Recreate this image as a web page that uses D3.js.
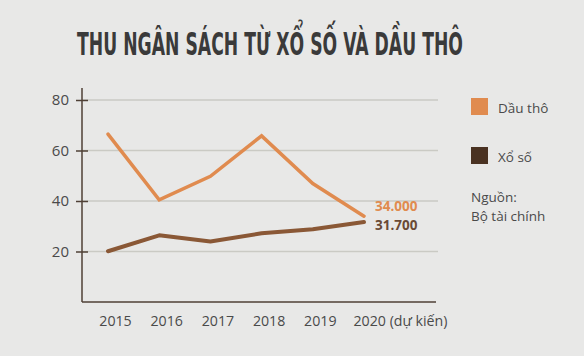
<!DOCTYPE html>
<html><head><meta charset="utf-8">
<script src="https://cdn.jsdelivr.net/npm/d3@7"></script>
<style>
html,body{margin:0;padding:0;background:#e8e8e7;}
svg{display:block;}
</style></head>
<body>
<script>
const categories = ["2015","2016","2017","2018","2019","2020"];
const tickLabels = ["2015","2016","2017","2018","2019","2020 (dự kiến)"];
const dauTho = [66.5, 40.5, 49.8, 65.8, 46.9, 34.0];
const xoSo = [20.1, 26.4, 24.0, 27.2, 28.8, 31.7];
const yTicks = [20, 40, 60, 80];
const seriesNames = ["Dầu thô", "Xổ số"];
const endLabels = ["34.000", "31.700"];
const title = "THU NGÂN SÁCH TỪ XỔ SỐ VÀ DẦU THÔ";
const sourceLines = ["Nguồn:", "Bộ tài chính"];

const W = 584, H = 356;
const C_OIL = "#e08b4f", C_LOT = "#8a5836", C_LEG2 = "#4a3222", C_AXIS = "#4f4036", C_TXT = "#4a4a4a";
const FONT = "'Open Sans', 'Noto Sans', sans-serif";

const svg = d3.select("body").append("svg").attr("width", W).attr("height", H);
svg.append("rect").attr("width", W).attr("height", H).attr("fill", "#e8e8e7");

const tg = svg.append("g");
const tt = tg.append("text").attr("x", 0).attr("y", 0).attr("text-anchor", "middle")
  .attr("font-family", "'DejaVu Sans Condensed','DejaVu Sans',sans-serif").attr("font-weight", "bold")
  .attr("font-size", 32).attr("fill", "#3a3a3a")
  .text(title);
const natural = tt.node().getComputedTextLength();
tg.attr("transform", `translate(270,55) scale(${386 / natural},1)`);

const x = d3.scalePoint().domain(categories).range([108, 364]);
const y = d3.scaleLinear().domain([0, 80]).range([302, 100]);
const axisLeft = 82, gridRight = 438;

// gridlines
svg.append("g").selectAll("line").data(yTicks).join("line")
  .attr("x1", axisLeft).attr("x2", gridRight)
  .attr("y1", d => y(d)).attr("y2", d => y(d))
  .attr("stroke", "#cacac4").attr("stroke-width", 1.5);

// y axis
const yAxis = svg.append("g").attr("transform", `translate(${axisLeft},0)`)
  .call(d3.axisLeft(y).tickValues(yTicks).tickSize(6).tickPadding(7));
yAxis.select(".domain").remove();
yAxis.selectAll(".tick line").attr("x1", -6).attr("x2", 6).attr("stroke", C_AXIS).attr("stroke-width", 1.5);
yAxis.selectAll(".tick text").attr("font-family", FONT).attr("font-size", 15).attr("fill", C_TXT).attr("x", -13);
svg.append("line").attr("x1", axisLeft).attr("x2", axisLeft).attr("y1", 88).attr("y2", y(0))
  .attr("stroke", C_AXIS).attr("stroke-width", 1.5);

// x axis
const xAxis = svg.append("g").attr("transform", `translate(0,${y(0)})`)
  .call(d3.axisBottom(x).tickSize(0).tickPadding(14).tickFormat((d, i) => tickLabels[i]));
xAxis.select(".domain").remove();
xAxis.selectAll(".tick text").attr("font-family", FONT).attr("font-size", 14.2).attr("fill", C_TXT)
  .attr("dx", (d, i) => i === 5 ? 0 : 7)
  .attr("text-anchor", (d, i) => i === 5 ? "start" : "middle")
  .attr("x", (d, i) => i === 5 ? -11 : 0);
svg.append("line").attr("x1", axisLeft).attr("x2", 436).attr("y1", y(0)).attr("y2", y(0))
  .attr("stroke", C_AXIS).attr("stroke-width", 1.5);

const line = d3.line().x((d, i) => x(categories[i])).y(d => y(d));
svg.append("path").datum(xoSo).attr("d", line).attr("fill", "none")
  .attr("stroke", C_LOT).attr("stroke-width", 4).attr("stroke-linejoin", "round").attr("stroke-linecap", "round");
svg.append("path").datum(dauTho).attr("d", line).attr("fill", "none")
  .attr("stroke", C_OIL).attr("stroke-width", 3.5).attr("stroke-linejoin", "miter").attr("stroke-linecap", "round");

// end labels
const last = categories[categories.length - 1];
svg.append("text").attr("x", x(last) + 11).attr("y", y(dauTho[5]) - 5)
  .attr("font-family", FONT).attr("font-weight", "bold").attr("font-size", 13.5).attr("fill", C_OIL).text(endLabels[0]);
svg.append("text").attr("x", x(last) + 11).attr("y", y(xoSo[5]) + 8)
  .attr("font-family", FONT).attr("font-weight", "bold").attr("font-size", 13.5).attr("fill", "#6a4a34").text(endLabels[1]);

// legend
const legColors = [C_OIL, C_LEG2];
const leg = svg.append("g");
seriesNames.forEach((n, i) => {
  leg.append("rect").attr("x", 471).attr("y", 98 + i * 49).attr("width", 17).attr("height", 17).attr("fill", legColors[i]);
  leg.append("text").attr("x", 498).attr("y", 113 + i * 49).attr("font-family", FONT).attr("font-size", 13.5)
    .attr("fill", C_TXT).text(n);
});
sourceLines.forEach((s, i) => {
  leg.append("text").attr("x", 471).attr("y", 202 + i * 19).attr("font-family", FONT).attr("font-size", 13.5)
    .attr("fill", C_TXT).text(s);
});
</script>
</body></html>
